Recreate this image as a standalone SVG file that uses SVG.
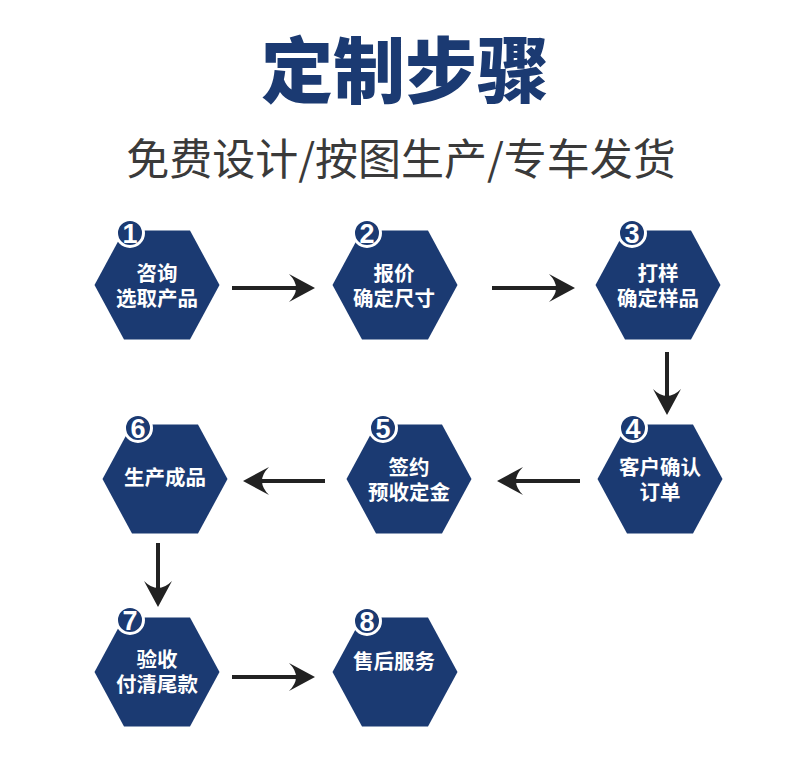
<svg xmlns="http://www.w3.org/2000/svg" width="790" height="769" viewBox="0 0 790 769">
<defs>
<style>
.hex{fill:#1b3a72;}
.badge{fill:#1b3a72;stroke:#ffffff;stroke-width:3;}
.num{fill:#ffffff;font-family:"Liberation Sans","DejaVu Sans",sans-serif;font-weight:bold;font-size:27px;text-anchor:middle;}
.lbl{fill:#ffffff;font-family:"Noto Sans CJK SC",sans-serif;font-weight:bold;font-size:20.5px;text-anchor:middle;}
.conn{stroke:#222222;stroke-width:4;fill:none;marker-end:url(#ah);}
</style>
<marker id="ah" viewBox="0 0 26 28" refX="16" refY="14" markerWidth="26" markerHeight="28" markerUnits="userSpaceOnUse" orient="auto">
<path d="M26,14 L0,0 Q14,14 0,28 Z" fill="#222222"/>
</marker>
</defs>
<rect width="790" height="769" fill="#ffffff"/>
<text x="405" y="97" font-family="Noto Sans CJK SC,sans-serif" font-weight="900" font-size="72" fill="#1b3a72" text-anchor="middle">定制步骤</text>
<text x="401" y="175" font-family="Noto Sans CJK SC,sans-serif" font-size="43" fill="#3a3a3a" text-anchor="middle">免费设计/按图生产/专车发货</text>

<g id="connectors">
<line class="conn" x1="232" y1="288" x2="305" y2="288"/>
<line class="conn" x1="492" y1="288" x2="565" y2="288"/>
<line class="conn" x1="667" y1="352" x2="667" y2="405"/>
<line class="conn" x1="580" y1="481" x2="507" y2="481"/>
<line class="conn" x1="325" y1="481" x2="253" y2="481"/>
<line class="conn" x1="158" y1="543" x2="158" y2="597"/>
<line class="conn" x1="232" y1="677" x2="305" y2="677"/>
</g>

<g id="node1">
<polygon class="hex" points="124,230.5 190,230.5 219.5,285 190,339.5 124,339.5 94.5,285"/>
<circle class="badge" cx="130" cy="233" r="13.5"/>
<text class="num" x="130" y="242.5">1</text>
<text class="lbl" x="157" y="281">咨询</text>
<text class="lbl" x="157" y="306">选取产品</text>
</g>

<g id="node2">
<polygon class="hex" points="362,230.5 428,230.5 457.5,285 428,339.5 362,339.5 332.5,285"/>
<circle class="badge" cx="367" cy="233" r="13.5"/>
<text class="num" x="367" y="242.5">2</text>
<text class="lbl" x="394" y="281">报价</text>
<text class="lbl" x="394" y="306">确定尺寸</text>
</g>

<g id="node3">
<polygon class="hex" points="625,230.5 691,230.5 720.5,285 691,339.5 625,339.5 595.5,285"/>
<circle class="badge" cx="632" cy="233" r="13.5"/>
<text class="num" x="632" y="242.5">3</text>
<text class="lbl" x="658" y="281">打样</text>
<text class="lbl" x="658" y="306">确定样品</text>
</g>

<g id="node4">
<polygon class="hex" points="627,424.5 693,424.5 722.5,479 693,533.5 627,533.5 597.5,479"/>
<circle class="badge" cx="633" cy="428" r="13.5"/>
<text class="num" x="633" y="437.5">4</text>
<text class="lbl" x="660" y="475">客户确认</text>
<text class="lbl" x="660" y="500">订单</text>
</g>

<g id="node5">
<polygon class="hex" points="376,424.5 442,424.5 471.5,479 442,533.5 376,533.5 346.5,479"/>
<circle class="badge" cx="383" cy="428" r="13.5"/>
<text class="num" x="383" y="437.5">5</text>
<text class="lbl" x="409" y="475">签约</text>
<text class="lbl" x="409" y="500">预收定金</text>
</g>

<g id="node6">
<polygon class="hex" points="132,424.5 198,424.5 227.5,479 198,533.5 132,533.5 102.5,479"/>
<circle class="badge" cx="138" cy="428" r="13.5"/>
<text class="num" x="138" y="437.5">6</text>
<text class="lbl" x="165" y="485">生产成品</text>
</g>

<g id="node7">
<polygon class="hex" points="124,617.5 190,617.5 219.5,672 190,726.5 124,726.5 94.5,672"/>
<circle class="badge" cx="130" cy="620" r="13.5"/>
<text class="num" x="130" y="629.5">7</text>
<text class="lbl" x="157" y="667">验收</text>
<text class="lbl" x="157" y="692">付清尾款</text>
</g>

<g id="node8">
<polygon class="hex" points="362,617.5 428,617.5 457.5,672 428,726.5 362,726.5 332.5,672"/>
<circle class="badge" cx="367" cy="621" r="13.5"/>
<text class="num" x="367" y="630.5">8</text>
<text class="lbl" x="394" y="669">售后服务</text>
</g>
</svg>
